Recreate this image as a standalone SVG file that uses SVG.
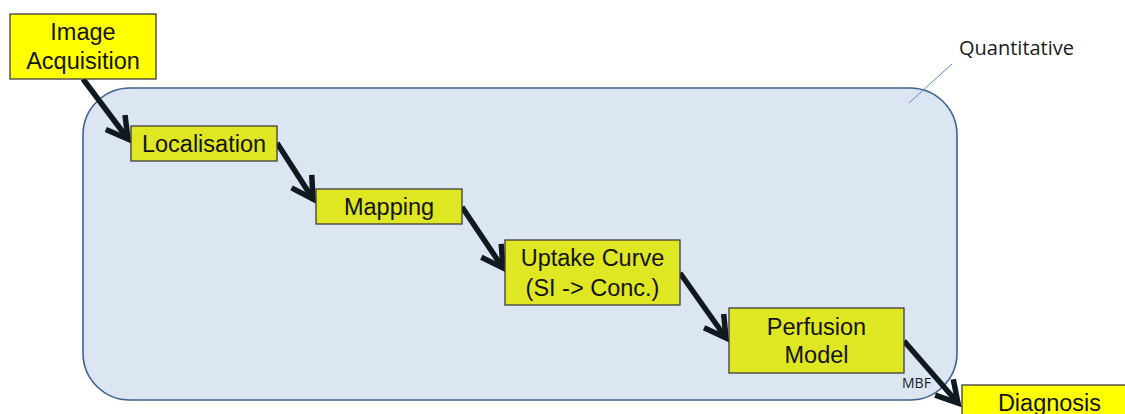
<svg xmlns="http://www.w3.org/2000/svg" width="1125" height="414" viewBox="0 0 1125 414">
<style>
.box{stroke:#3c3c3c;stroke-width:1.3}
.y1{fill:#ffff00}
.y2{fill:#dfe622}
.t{font-family:"Liberation Sans",Arial,sans-serif;font-size:23.5px;fill:#141414;text-anchor:middle}
.c{font-family:"Open Sans","Liberation Sans",sans-serif;fill:#1a1a1a}
.arr{stroke:#101820;stroke-width:5.5;fill:none;marker-end:url(#ah)}
</style>
<defs>
<marker id="ah" markerUnits="userSpaceOnUse" viewBox="-26 -14 30 28" refX="0" refY="0" markerWidth="30" markerHeight="28" orient="auto" overflow="visible">
<path d="M-21,-12 L0,0 L-21,12" fill="none" stroke="#101820" stroke-width="5.5" stroke-linejoin="miter"/>
</marker>
</defs>
<g id="quantitative">
<rect x="83" y="88" width="874" height="312" rx="47" ry="47" fill="#dce6f2" stroke="#3d6190" stroke-width="1.6"/>
<line x1="952" y1="64" x2="909" y2="103" stroke="#5b8ac6" stroke-width="1"/>
<text class="c" x="959" y="55" font-size="20">Quantitative</text>
</g>
<g id="connectors">
<line class="arr" x1="83" y1="79" x2="128" y2="139"/>
<line class="arr" x1="277" y1="143" x2="313" y2="199"/>
<line class="arr" x1="462" y1="207" x2="503" y2="268"/>
<line class="arr" x1="680" y1="273" x2="726" y2="338"/>
<line class="arr" x1="904" y1="341" x2="958" y2="403"/>
</g>
<g id="image-acquisition">
<rect class="box y1" x="10" y="14" width="146" height="65"/>
<text class="t" x="83" y="40">Image</text>
<text class="t" x="83" y="69">Acquisition</text>
</g>
<g id="localisation">
<rect class="box y2" x="131" y="126" width="146" height="35"/>
<text class="t" x="204" y="152">Localisation</text>
</g>
<g id="mapping">
<rect class="box y2" x="316" y="189" width="146" height="35"/>
<text class="t" x="389" y="215">Mapping</text>
</g>
<g id="uptake-curve">
<rect class="box y2" x="505" y="240" width="175" height="65"/>
<text class="t" x="592.5" y="266">Uptake Curve</text>
<text class="t" x="592.5" y="296">(SI -&gt; Conc.)</text>
</g>
<g id="perfusion-model">
<rect class="box y2" x="729" y="308" width="175" height="65"/>
<text class="t" x="816.5" y="335">Perfusion</text>
<text class="t" x="816.5" y="363">Model</text>
<text class="c" x="902" y="388" font-size="14">MBF</text>
</g>
<g id="diagnosis">
<rect class="box y1" x="962" y="385" width="175" height="65"/>
<text class="t" x="1049.5" y="411">Diagnosis</text>
</g>
</svg>
